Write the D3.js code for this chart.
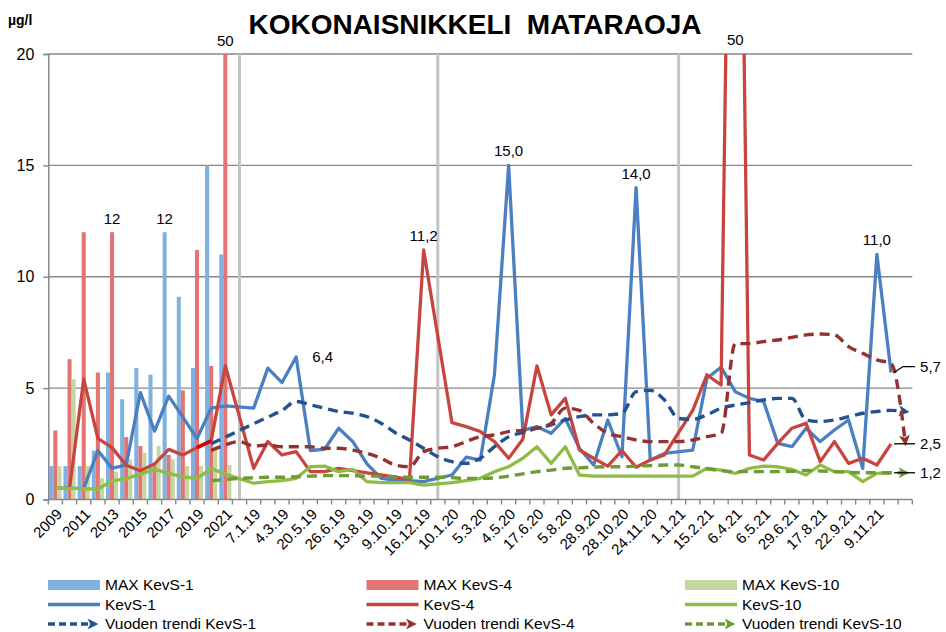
<!DOCTYPE html>
<html>
<head>
<meta charset="utf-8">
<title>Kokonaisnikkeli Mataraoja</title>
<script src="https://d3js.org/d3.v7.min.js"></script>
<style>
    body { margin: 0; background: #ffffff; font-family: 'Liberation Sans', Arial, sans-serif; }
    svg text { fill: #000000; }
</style>
</head>
<body>
<div id="chart"></div>
<script>
// categories: 13 years, a separator, then sample dates (only every 2nd label shown)
const categories = [
    '2009','2010','2011','2012','2013','2014','2015','2016','2017','2018','2019','2020','2021',
    '',
    '7.1.19','','4.3.19','','20.5.19','','26.6.19','','13.8.19','','9.10.19','','16.12.19','',
    '10.1.20','','5.3.20','','4.5.20','','17.6.20','','5.8.20','','28.9.20','','28.10.20','',
    '24.11.20','','1.1.21','','15.2.21','','6.4.21','','6.5.21','','29.6.21','','17.8.21','',
    '22.9.21','','9.11.21','',''
];
const separators = [13, 27, 44];

// yearly maxima 2009-2021
const maxKevS1  = [1.5, 1.5, 1.5, 2.2, 5.7, 4.5, 5.9, 5.6, 12.0, 9.1, 5.9, 15.0, 11.0];
const maxKevS4  = [3.1, 6.3, 12.0, 5.7, 12.0, 2.8, 2.4, 1.6, 2.0, 4.9, 11.2, 6.0, 50];
const maxKevS10 = [1.5, 5.4, 1.5, 0.95, 1.25, 1.8, 2.1, 2.4, 1.8, 1.5, 1.5, 2.3, 1.55];

// measured values (null = no value)
const kevS1 = [0.5, 0.5, 0.5, 2.2, 1.4, 1.55, 4.8, 3.07, 4.64, 3.7, 2.74, 4.1, 4.2, null,
    4.1, 5.9, 5.25, 6.4, 2.2, 2.25, 3.2, 2.6, 1.6, 0.95, 0.87, 0.85, 0.8, null,
    1.1, 1.9, 1.77, 5.6, 15.0, 3.1, 3.27, 2.97, 3.64, 2.3, 1.55, 3.57, 1.92, 14.0, 1.77, 2.07, null,
    2.22, 5.44, 5.94, 4.84, 4.54, 4.4, 2.52, 2.37, 3.2, 2.6, 3.12, 3.57, 1.4, 11.0, 5.7, null];
const kevS4 = [0.5, 0.5, 5.4, 2.74, 2.33, 1.54, 1.29, 1.6, 2.25, 2.0, 2.33, 2.63, 6.0, null,
    1.4, 2.6, 2.0, 2.15, 1.25, 1.25, 1.4, 1.3, 1.2, 1.1, 1.0, 0.9, 11.2, null,
    3.45, 3.27, 3.05, 2.6, 1.85, 2.7, 6.0, 3.8, 4.54, 2.22, 1.85, 1.5, 2.2, 1.45, 1.77, 2.0, null,
    4.0, 5.6, 5.14, 50, 2.0, 1.77, 2.52, 3.2, 3.42, 1.7, 2.6, 1.62, 1.85, 1.55, 2.5, null];
const kevS10 = [0.5, 0.5, 0.49, 0.46, 0.84, 0.94, 1.14, 1.35, 1.17, 1.02, 0.94, 1.39, 1.14, null,
    0.73, 0.8, 0.85, 0.95, 1.47, 1.5, 1.25, 1.35, 0.8, 0.76, 0.76, 0.76, 0.65, null,
    0.76, 0.85, 0.95, 1.25, 1.47, 1.85, 2.37, 1.62, 2.37, 1.1, 1.05, 1.05, 1.05, 1.05, 1.05, 1.05, null,
    1.05, 1.4, 1.32, 1.17, 1.4, 1.5, 1.47, 1.35, 1.1, 1.55, 1.25, 1.25, 0.8, 1.17, 1.2, null];

// one-year trends
const trendS1 = [null, null, null, null, null, null, null, null, null, null, null, 2.5, 2.8, 3.1,
    3.4, 3.7, 4.0, 4.4, 4.25, 4.1, 3.95, 3.87, 3.72, 3.42, 3.0, 2.67, 2.3, 1.92,
    1.7, 1.62, 1.85, 2.37, 2.82, 3.0, 3.2, 3.35, 3.57, 3.72, 3.8, 3.8, 3.87, 4.84, 4.9, 4.47, 3.64,
    3.6, 3.8, 4.1, 4.24, 4.35, 4.47, 4.54, 4.54, 3.57, 3.5, 3.57, 3.72, 3.87, 3.95, 4.0, 3.95];
const trendS4 = [null, null, null, null, null, null, null, null, null, null, null, 2.2, 2.45, 2.6,
    2.4, 2.45, 2.37, 2.37, 2.37, 2.3, 2.3, 2.22, 2.07, 1.85, 1.55, 1.47, 2.15, 2.3,
    2.37, 2.6, 2.82, 2.9, 3.05, 3.1, 3.2, 3.42, 4.1, 4.0, 3.42, 2.97, 2.82, 2.67, 2.6, 2.6, 2.6,
    2.67, 2.82, 2.97, 7.0, 7.0, 7.09, 7.16, 7.28, 7.39, 7.43, 7.39, 6.86, 6.56, 6.27, 6.1, 2.6];
const trendS10 = [null, null, null, null, null, null, null, null, null, null, null, 0.84, 0.9, 0.95,
    0.97, 1.0, 1.0, 1.02, 1.05, 1.07, 1.07, 1.07, 1.05, 1.05, 1.02, 1.0, 1.0, 1.0,
    0.98, 0.95, 0.95, 0.97, 1.05, 1.15, 1.25, 1.32, 1.4, 1.42, 1.45, 1.47, 1.47, 1.5, 1.52, 1.55, 1.55,
    1.47, 1.38, 1.3, 1.25, 1.25, 1.25, 1.25, 1.27, 1.3, 1.28, 1.25, 1.22, 1.2, 1.2, 1.2, 1.2];

const yTicks = [0, 5, 10, 15, 20];

const W = 946, H = 632;
const svg = d3.select('#chart').append('svg').attr('width', W).attr('height', H);

const x = d3.scaleBand().domain(d3.range(categories.length)).range([48.3, 912.3]);
const y = d3.scaleLinear().domain([0, 20]).range([499.5, 54]);
const bw = x.bandwidth();
const sub = d3.scaleBand().domain(['s1', 's4', 's10']).range([1, bw - 1]);
const cx = i => x(i) + bw / 2;

const colors = {
    bar: { s1: '#7fb2e0', s4: '#e27474', s10: '#c4d79e' },
    line: { s1: '#4a7fc1', s4: '#c8453f', s10: '#8fbc45' },
    trend: { s1: '#23528f', s4: '#943232', s10: '#6f9a38' }
};

const fmt = d3.formatLocale({ decimal: ',', thousands: ' ', grouping: [3], currency: ['', ''] });
const f1 = fmt.format('.1f'), f0 = fmt.format('.0f');

// title
svg.append('text')
    .attr('x', 475).attr('y', 34)
    .attr('text-anchor', 'middle')
    .style('white-space', 'pre')
    .attr('font-size', 28).attr('font-weight', 'bold')
    .text('KOKONAISNIKKELI  MATARAOJA');
svg.append('text')
    .attr('x', 8).attr('y', 25)
    .attr('font-size', 14).attr('font-weight', 'bold')
    .text('µg/l');

// gridlines
svg.append('g').selectAll('line')
    .data(yTicks.filter(d => d > 0))
    .enter().append('line')
    .attr('x1', x.range()[0]).attr('x2', x.range()[1])
    .attr('y1', d => y(d)).attr('y2', d => y(d))
    .attr('stroke', '#878787').attr('stroke-width', 1.4);

svg.append('clipPath').attr('id', 'plot')
    .append('rect')
    .attr('x', x.range()[0]).attr('y', y(20))
    .attr('width', x.range()[1] - x.range()[0]).attr('height', y(0) - y(20));

const plot = svg.append('g').attr('clip-path', 'url(#plot)');

// year separators
plot.append('g').selectAll('line')
    .data(separators)
    .enter().append('line')
    .attr('x1', d => cx(d)).attr('x2', d => cx(d))
    .attr('y1', y(0)).attr('y2', y(20))
    .attr('stroke', '#c4c4c4').attr('stroke-width', 3);

// yearly max bars
const barSeries = [['s1', maxKevS1], ['s4', maxKevS4], ['s10', maxKevS10]];
barSeries.forEach(([key, vals]) => {
    plot.append('g').selectAll('rect')
        .data(vals)
        .enter().append('rect')
        .attr('x', (d, i) => x(i) + sub(key))
        .attr('width', sub.bandwidth())
        .attr('y', d => y(Math.min(d, 20.5)))
        .attr('height', d => y(0) - y(Math.min(d, 20.5)))
        .attr('fill', colors.bar[key]);
});

// solid lines
const pts = vals => vals.map((v, i) => ({ i, v })).filter(d => d.v !== null);
const line = d3.line().x(d => cx(d.i)).y(d => y(d.v));

const lineSeries = [['s1', kevS1], ['s4', kevS4], ['s10', kevS10]];
lineSeries.forEach(([key, vals]) => {
    plot.append('path')
        .attr('d', line(pts(vals)))
        .attr('fill', 'none')
        .attr('stroke', colors.line[key])
        .attr('stroke-width', 3.3)
        .attr('stroke-linejoin', 'round');
});
// highlighted KevS-4 step 2019 -> 2020
plot.append('path')
    .attr('d', line(pts(kevS4).filter(d => d.i === 10 || d.i === 11)))
    .attr('fill', 'none').attr('stroke', '#d40000').attr('stroke-width', 3.5);

// arrow markers
const defs = svg.append('defs');
Object.entries(colors.trend).forEach(([key, c]) => {
    defs.append('marker')
        .attr('id', 'arr-' + key)
        .attr('viewBox', '0 0 10 10')
        .attr('refX', 6).attr('refY', 5)
        .attr('markerWidth', 3.2).attr('markerHeight', 3.2)
        .attr('markerUnits', 'strokeWidth')
        .attr('orient', 'auto')
        .append('path')
        .attr('d', 'M0,0 L10,5 L0,10 L2.5,5 Z')
        .attr('fill', c);
});

// trend lines
const trendSeries = [['s1', trendS1], ['s4', trendS4], ['s10', trendS10]];
trendSeries.forEach(([key, vals]) => {
    svg.append('path')
        .attr('d', d3.line().x(d => cx(d.i)).y(d => y(d.v)).curve(d3.curveMonotoneX)(pts(vals)))
        .attr('fill', 'none')
        .attr('stroke', colors.trend[key])
        .attr('stroke-width', 3.4)
        .attr('stroke-dasharray', '10,6')
        .attr('marker-end', 'url(#arr-' + key + ')');
});

// y axis
const yAxis = svg.append('g')
    .attr('transform', `translate(${x.range()[0]},0)`)
    .call(d3.axisLeft(y).tickValues(yTicks).tickSize(5).tickPadding(9).tickFormat(d3.format('d')));
yAxis.select('.domain').attr('stroke', '#878787').attr('stroke-width', 1.5);
yAxis.selectAll('.tick line').attr('stroke', '#878787').attr('stroke-width', 1.4);
yAxis.selectAll('.tick text').attr('font-size', 16).attr('font-family', "'Liberation Sans', Arial, sans-serif");

// x axis
svg.append('line')
    .attr('x1', x.range()[0]).attr('x2', x.range()[1])
    .attr('y1', y(0)).attr('y2', y(0))
    .attr('stroke', '#878787').attr('stroke-width', 1.6);
svg.append('g').selectAll('line')
    .data(d3.range(categories.length + 1))
    .enter().append('line')
    .attr('x1', i => x.range()[0] + i * bw).attr('x2', i => x.range()[0] + i * bw)
    .attr('y1', y(0)).attr('y2', y(0) + 5)
    .attr('stroke', '#878787').attr('stroke-width', 1.4);
svg.append('g').selectAll('text')
    .data(categories.map((c, i) => ({ c, i })).filter(d => d.i % 2 === 0 && d.c))
    .enter().append('text')
    .attr('transform', d => `translate(${cx(d.i) + 4},${y(0) + 12}) rotate(-45)`)
    .attr('text-anchor', 'end')
    .attr('dy', '0.35em')
    .attr('font-size', 15)
    .text(d => d.c);

// data labels
const valuesOf = { s1: kevS1, s4: kevS4, s10: kevS10 };
const barValuesOf = { s1: maxKevS1, s4: maxKevS4, s10: maxKevS10 };
const barLabels = [{ s: 's4', i: 4 }, { s: 's1', i: 8 }, { s: 's4', i: 12 }];
const pointLabels = [
    { s: 's1', i: 17, pos: 'right' }, { s: 's4', i: 26, pos: 'above' },
    { s: 's1', i: 32, pos: 'above' }, { s: 's1', i: 41, pos: 'above' },
    { s: 's4', i: 48, pos: 'above' }, { s: 's1', i: 58, pos: 'above' }
];
const endLabels = [{ s: 's1', i: 59, lift: 6 }, { s: 's4', i: 59, lift: 0 }, { s: 's10', i: 59, lift: 0 }];

svg.append('g').selectAll('text')
    .data(barLabels)
    .enter().append('text')
    .attr('x', d => x(d.i) + sub(d.s) + sub.bandwidth() / 2)
    .attr('y', d => y(Math.min(barValuesOf[d.s][d.i], 20)) - 8)
    .attr('text-anchor', 'middle')
    .attr('font-size', 15)
    .text(d => f0(barValuesOf[d.s][d.i]));

svg.append('g').selectAll('text')
    .data(pointLabels)
    .enter().append('text')
    .attr('x', d => cx(d.i) + (d.pos === 'right' ? 16 : 0))
    .attr('y', d => {
        const v = valuesOf[d.s][d.i];
        return d.pos === 'right' ? y(v) + 5 : y(Math.min(v, 20)) - 9;
    })
    .attr('text-anchor', d => d.pos === 'right' ? 'start' : 'middle')
    .attr('font-size', 15)
    .text(d => {
        const v = valuesOf[d.s][d.i];
        return v >= 20 ? f0(v) : f1(v);
    });

const ends = svg.append('g').selectAll('g')
    .data(endLabels)
    .enter().append('g');
ends.append('path')
    .attr('d', d => {
        const px = cx(d.i), py = y(valuesOf[d.s][d.i]);
        return `M${px + 3},${py} L${px + 12},${py - d.lift} L${px + 24},${py - d.lift}`;
    })
    .attr('fill', 'none').attr('stroke', '#000').attr('stroke-width', 1.3);
ends.append('text')
    .attr('x', d => cx(d.i) + 29)
    .attr('y', d => y(valuesOf[d.s][d.i]) - d.lift)
    .attr('dy', '0.35em')
    .attr('font-size', 15)
    .text(d => f1(valuesOf[d.s][d.i]));

// legend
const legendCols = ['s1', 's4', 's10'];
const legendNames = { s1: 'KevS-1', s4: 'KevS-4', s10: 'KevS-10' };
const lx = d3.scalePoint().domain(legendCols).range([48, 685]);
const ly = d3.scalePoint().domain(['bar', 'line', 'trend']).range([585, 624]);
legendCols.forEach(key => {
    const g = svg.append('g').attr('transform', `translate(${lx(key)},0)`);
    g.append('rect').attr('x', 0).attr('y', ly('bar') - 5).attr('width', 52).attr('height', 10)
        .attr('fill', colors.bar[key]);
    g.append('line').attr('x1', 0).attr('x2', 52).attr('y1', ly('line')).attr('y2', ly('line'))
        .attr('stroke', colors.line[key]).attr('stroke-width', 3.3);
    g.append('line').attr('x1', 0).attr('x2', 46).attr('y1', ly('trend')).attr('y2', ly('trend'))
        .attr('stroke', colors.trend[key]).attr('stroke-width', 3.4)
        .attr('stroke-dasharray', '7,4')
        .attr('marker-end', 'url(#arr-' + key + ')');
    const labels = { bar: 'MAX ' + legendNames[key], line: legendNames[key], trend: 'Vuoden trendi ' + legendNames[key] };
    Object.entries(labels).forEach(([row, t]) => {
        g.append('text').attr('x', 57).attr('y', ly(row)).attr('dy', '0.35em')
            .attr('font-size', 15.5).text(t);
    });
});
</script>
</body>
</html>
